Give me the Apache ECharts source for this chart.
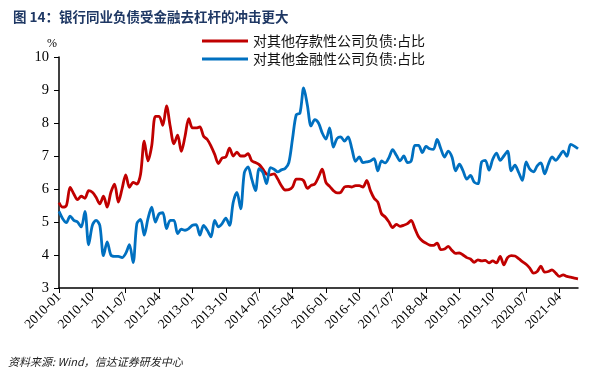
<!DOCTYPE html>
<html><head><meta charset="utf-8">
<script src="https://cdn.jsdelivr.net/npm/echarts@6/dist/echarts.min.js"></script>
<style>html,body{margin:0;padding:0;background:#fff}#c{width:602px;height:371px}</style>
</head><body><div id="c"></div>
<script>
// months 2010-01 .. 2021-09
const categories = [];
for (let y = 2010; y <= 2021; y++) for (let m = 1; m <= 12; m++) {
  if (y === 2021 && m > 9) break;
  categories.push(y + '-' + (m < 10 ? '0' + m : m));
}
const depositShare = [5.59,5.45,5.5,6.05,5.85,5.68,5.78,5.72,5.95,5.9,5.75,5.55,5.78,5.45,5.9,6.15,5.6,6.0,6.43,6.05,
6.2,6.15,6.45,7.45,6.85,7.3,8.2,8.2,7.93,8.52,7.9,7.37,7.63,7.14,7.6,8.13,7.85,7.85,7.88,7.6,
7.5,7.3,7.05,6.77,6.94,6.97,7.24,7.0,7.12,7.0,7.0,7.07,6.85,6.8,6.74,6.6,6.45,6.43,6.46,6.3,
6.1,5.97,5.98,6.06,6.3,6.3,6.25,6.02,6.11,6.15,6.36,6.6,6.2,6.08,5.95,5.88,5.9,6.06,6.08,6.06,
6.1,6.1,6.06,6.26,5.95,5.72,5.6,5.25,5.15,5.0,4.83,4.93,4.87,4.9,4.95,5.05,4.8,4.55,4.43,4.36,
4.3,4.29,4.36,4.16,4.18,4.26,4.14,4.05,4.06,4.0,3.92,3.88,3.78,3.85,3.82,3.84,3.76,3.82,3.76,3.96,
3.7,3.92,3.98,3.97,3.89,3.8,3.72,3.6,3.45,3.5,3.66,3.48,3.5,3.55,3.45,3.35,3.4,3.35,3.33,3.3,3.28];
const financialShare = [5.32,5.1,4.98,5.18,5.05,5.0,4.85,5.32,4.31,4.9,5.05,4.9,3.98,4.4,4.0,3.96,3.96,3.92,4.05,4.31,
3.77,4.95,5.08,4.6,5.1,5.45,5.0,5.25,5.28,4.8,5.05,5.05,4.65,4.78,4.75,4.8,4.9,4.92,4.6,4.9,
4.75,4.55,5.05,4.85,4.95,5.12,4.9,5.6,5.9,5.4,6.5,6.67,6.3,5.95,6.62,6.5,6.16,6.65,6.6,6.52,
6.58,6.62,6.8,7.53,8.25,8.3,9.06,8.54,7.91,8.1,8.0,7.7,7.51,7.85,7.27,7.53,7.58,7.45,7.58,7.22,
6.84,6.97,6.8,6.82,6.85,6.92,6.55,6.85,6.79,6.95,7.19,7.02,6.85,7.0,6.8,6.85,7.32,7.32,7.1,7.29,
7.22,7.2,7.5,7.22,6.97,7.15,6.97,6.55,6.75,6.55,6.3,6.41,6.21,6.16,6.82,6.87,6.57,6.9,7.09,6.87,
7.0,7.15,6.55,6.72,6.5,6.26,6.82,6.6,6.52,6.7,6.79,6.46,6.75,6.97,6.87,7.0,7.15,6.99,7.35,7.3,7.22];
const seriesNames = ['对其他存款性公司负债:占比', '对其他金融性公司负债:占比'];
const titleText = '图 14：银行同业负债受金融去杠杆的冲击更大';
const sourceText = '资料来源: Wind，信达证券研发中心';

const chart = echarts.init(document.getElementById('c'));
chart.setOption({
  animation: false,
  backgroundColor: '#fff',
  title: {
    text: titleText, left: 8, top: 5,
    textStyle: { fontSize: 13.5, fontWeight: 'bold', color: '#1F3864', fontFamily: 'Noto Sans CJK SC' }
  },
  graphic: [{
    type: 'text', left: 8, top: 356,
    style: { text: sourceText, font: 'italic 11px "Noto Sans CJK SC"', fill: '#222' }
  }],
  legend: {
    orient: 'vertical', left: 197, top: 29, itemGap: 4,
    itemWidth: 46, itemHeight: 3, icon: 'rect',
    textStyle: { fontSize: 14, color: '#111', fontFamily: 'Noto Sans CJK SC' },
    data: seriesNames
  },
  grid: { left: 59, right: 24, top: 57, bottom: 83, containLabel: false },
  xAxis: {
    type: 'category', data: categories, boundaryGap: false,
    axisLine: { lineStyle: { color: '#000', width: 1.5 } },
    axisTick: { interval: 8, length: 5, lineStyle: { color: '#000' } },
    axisLabel: { interval: 8, rotate: 45, fontSize: 13.5, color: '#000', fontFamily: 'Liberation Serif', margin: 7 },
    splitLine: { show: false }
  },
  yAxis: {
    type: 'value', min: 3, max: 10, interval: 1,
    name: '%', nameGap: 6, nameLocation: 'end',
    nameTextStyle: { fontSize: 12, color: '#000', fontFamily: 'Liberation Serif', padding: [0, 14, 0, 0] },
    axisLine: { show: true, lineStyle: { color: '#000', width: 1.5 } },
    axisTick: { show: true, length: 5, lineStyle: { color: '#000' } },
    axisLabel: { fontSize: 14.5, color: '#000', fontFamily: 'Liberation Serif', margin: 10 },
    splitLine: { show: false }
  },
  series: [
    { name: seriesNames[0], type: 'line', data: depositShare, smooth: 0.3, symbol: 'none',
      lineStyle: { color: '#C00000', width: 2.8 }, itemStyle: { color: '#C00000' } },
    { name: seriesNames[1], type: 'line', data: financialShare, smooth: 0.3, symbol: 'none',
      lineStyle: { color: '#0070C0', width: 2.8 }, itemStyle: { color: '#0070C0' } }
  ]
});
</script></body></html>
